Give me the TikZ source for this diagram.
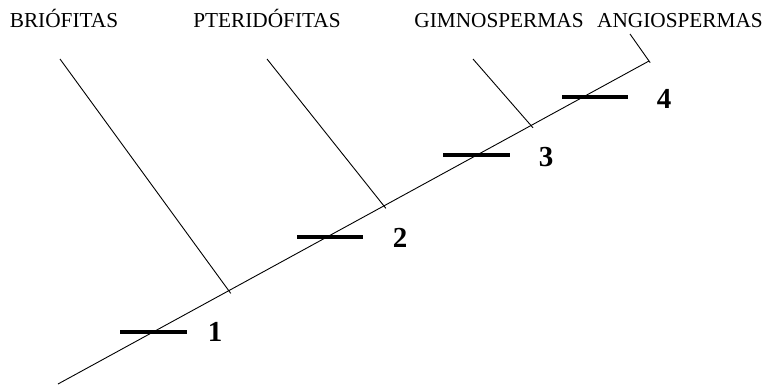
\documentclass[tikz,border=0pt]{standalone}
\usepackage{fontspec}
\setmainfont{Liberation Serif}
\begin{document}
\begin{tikzpicture}[x=1pt,y=-1pt,
  thin line/.style={line width=0.9pt},
  trait/.style={line width=4pt},
  cladelabel/.style={font=\fontsize{21.3}{24}\selectfont, anchor=base, inner sep=0pt},
  numlabel/.style={font=\fontsize{29}{32}\selectfont\bfseries, inner sep=0pt}]
\useasboundingbox (0,0) rectangle (765,384);
% main axis
\coordinate (root) at (58,384);
\coordinate (tip) at (649,61);
\coordinate (j1) at (229,291);
\coordinate (j2) at (384,206);
\coordinate (j3) at (531,125.5);
\draw[thin line] (root) -- (tip);
% branches
\coordinate (b1) at (60,59);
\coordinate (b2) at (267,59);
\coordinate (b3) at (473,59);
\coordinate (b4) at (630,34);
\draw[thin line, shorten >=-3pt] (b1) -- (j1);
\draw[thin line, shorten >=-3pt] (b2) -- (j2);
\draw[thin line, shorten >=-3pt] (b3) -- (j3);
\draw[thin line, shorten >=-2pt] (b4) -- (tip);
% labels
\node[cladelabel] (l1) at (64,27) {BRIÓFITAS};
\node[cladelabel] (l2) at (267,27) {PTERIDÓFITAS};
\node[cladelabel] (l3) at (499,27) {GIMNOSPERMAS};
\node[cladelabel] (l4) at (680,27) {ANGIOSPERMAS};
% traits
\coordinate (t1a) at (120,332); \coordinate (t1b) at (187,332);
\coordinate (t2a) at (297,237); \coordinate (t2b) at (363,237);
\coordinate (t3a) at (443,155); \coordinate (t3b) at (510,155);
\coordinate (t4a) at (562,97);  \coordinate (t4b) at (628,97);
\draw[trait] (t1a) -- (t1b);
\draw[trait] (t2a) -- (t2b);
\draw[trait] (t3a) -- (t3b);
\draw[trait] (t4a) -- (t4b);
\node[numlabel] (n1) at (215,332) {1};
\node[numlabel] (n2) at (400,238) {2};
\node[numlabel] (n3) at (546,157) {3};
\node[numlabel] (n4) at (664,99) {4};
\end{tikzpicture}
\end{document}
